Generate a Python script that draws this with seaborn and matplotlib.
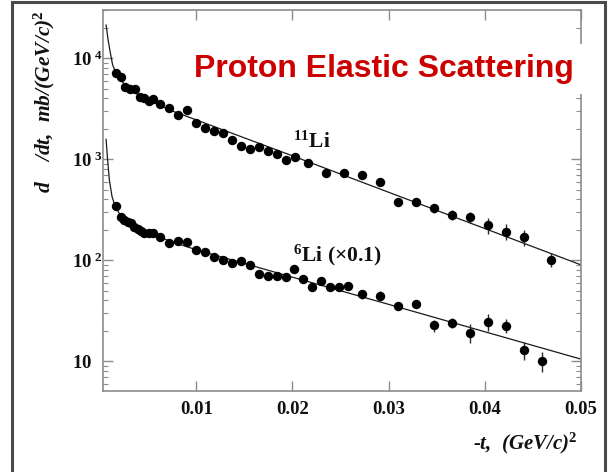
import matplotlib
matplotlib.use("Agg")
import matplotlib.pyplot as plt
import seaborn as sns
import pandas as pd
from matplotlib.patches import Rectangle
from matplotlib.ticker import FixedLocator, FixedFormatter, LogLocator, NullFormatter, NullLocator

# ---------------- data ----------------
li11_t = [0.00166, 0.00221, 0.00262, 0.00314, 0.00359, 0.00411, 0.00460, 0.00504, 0.00550, 0.00619,
          0.00712, 0.00806, 0.00899, 0.00997, 0.01090, 0.01180, 0.01273, 0.01367, 0.01460, 0.01554,
          0.01647, 0.01741, 0.01838, 0.01932, 0.02026, 0.02164, 0.02351, 0.02538, 0.02725, 0.02912,
          0.03096, 0.03283, 0.03470, 0.03657, 0.03844, 0.04031, 0.04218, 0.04405, 0.04685]
li11_xs = [7200, 6490, 5160, 4930, 4930, 4170, 4070, 3800, 3950, 3530,
           3200, 2750, 3060, 2290, 2060, 1900, 1820, 1540, 1360, 1250,
           1330, 1220, 1120, 980, 1050, 920, 730, 730, 700, 590,
           375, 375, 327, 283, 266, 224, 192, 169, 101]
li11_err = [250, 220, 180, 170, 170, 150, 140, 140, 140, 130,
            120, 110, 120, 95, 85, 80, 80, 70, 65, 60,
            65, 60, 55, 50, 55, 50, 45, 45, 45, 45,
            30, 30, 32, 34, 34, 40, 34, 30, 16]

li6_t = [0.00166, 0.00218, 0.00252, 0.00286, 0.00322, 0.00356, 0.00390, 0.00426, 0.00460, 0.00504,
         0.00550, 0.00619, 0.00712, 0.00806, 0.00899, 0.00997, 0.01090, 0.01180, 0.01273, 0.01367,
         0.01460, 0.01554, 0.01647, 0.01741, 0.01838, 0.01932, 0.02018, 0.02112, 0.02205, 0.02299,
         0.02392, 0.02486, 0.02579, 0.02725, 0.02912, 0.03096, 0.03283, 0.03470, 0.03657, 0.03844,
         0.04031, 0.04218, 0.04405, 0.04592]
li6_xs = [345, 267, 251, 241, 232, 215, 203, 196, 188, 185,
          185, 171, 147, 156, 152, 126, 121, 108.6, 100.7, 93.3,
          99, 89.2, 72.6, 69.5, 69.5, 68.8, 81.5, 64.9, 54.4, 61.9,
          54.8, 54.8, 55.7, 46.1, 44.6, 35.5, 36.6, 22.7, 24.1, 19.2,
          24.7, 22.5, 12.9, 10.1]
li6_err = [12, 10, 9, 9, 8, 8, 8, 7, 7, 7,
           7, 7, 6, 6, 6, 5, 5, 5, 4.5, 4.5,
           4.5, 4, 4, 4, 4, 4, 4, 4, 5, 5,
           5, 5, 5, 4.5, 4.5, 3.3, 2.9, 3.0, 2.9, 4.0,
           4.7, 3.5, 2.5, 2.3]

fit11_t = [0.00062, 0.00083, 0.00107, 0.00130, 0.00166, 0.0022, 0.003, 0.004, 0.005, 0.0075,
           0.01, 0.02, 0.03, 0.04, 0.05]
fit11_xs = [21400, 15200, 11200, 8600, 7100, 5960, 5050, 4300, 3850, 3000,
            2450, 1080, 471, 206, 90]

fit6_t = [0.00062, 0.00078, 0.00096, 0.00124, 0.00158, 0.002, 0.0025, 0.003, 0.004, 0.005,
          0.0075, 0.01, 0.02, 0.03, 0.04, 0.05]
fit6_xs = [1580, 985, 624, 426, 340, 290, 255, 233, 205, 186,
           152, 127, 68, 36.6, 19.6, 10.5]

x_ticks = [0.01, 0.02, 0.03, 0.04, 0.05]
x_tick_labels = ["0.01", "0.02", "0.03", "0.04", "0.05"]
y_ticks = [10, 100, 1000, 10000]
y_tick_labels = [r"$10$", r"$10^{\ 2}$", r"$10^{\ 3}$", r"$10^{\ 4}$"]

title_text = "Proton Elastic Scattering"
label_11 = r"$^{11}\mathrm{Li}$"
label_6 = r"$^{6}\mathrm{Li\ (\times 0.1)}$"
y_label = r"d    /dt,  mb/(GeV/c)$^{\mathit{2}}$"
x_label = r"-t,  (GeV/c)$^{\mathit{2}}$"

# ---------------- style ----------------
sns.set_theme(style="ticks")
plt.rcParams["font.family"] = ["Liberation Serif", "DejaVu Serif"]
plt.rcParams["mathtext.fontset"] = "custom"
plt.rcParams["mathtext.rm"] = "Liberation Serif:bold"
plt.rcParams["mathtext.bf"] = "Liberation Serif:bold"
plt.rcParams["mathtext.it"] = "Liberation Serif:italic:bold"
plt.rcParams["mathtext.bfit"] = "Liberation Serif:italic:bold"

W, H = 610, 472
fig = plt.figure(figsize=(W / 100, H / 100), dpi=100)
fig.patch.set_facecolor("white")
ax = fig.add_axes([103 / W, (H - 391) / H, (581 - 103) / W, (391 - 10) / H])
ax.set_facecolor("white")

df11 = pd.DataFrame({"t": li11_t, "xs": li11_xs, "err": li11_err})
df6 = pd.DataFrame({"t": li6_t, "xs": li6_xs, "err": li6_err})
f11 = pd.DataFrame({"t": fit11_t, "xs": fit11_xs})
f6 = pd.DataFrame({"t": fit6_t, "xs": fit6_xs})

for f in (f11, f6):
    sns.lineplot(data=f, x="t", y="xs", ax=ax, color="#1a1a1a", lw=0.9,
                 estimator=None, sort=True, legend=False, zorder=2)
for d in (df11, df6):
    ax.errorbar(d["t"], d["xs"], yerr=d["err"], fmt="none", ecolor="#2a2a2a",
                elinewidth=1.0, capsize=0, zorder=3)
    sns.scatterplot(data=d, x="t", y="xs", ax=ax, color="black", s=46,
                    linewidth=0, legend=False, zorder=4)

ax.set_yscale("log")
ax.set_xlim(0.0003, 0.05)
ax.set_ylim(5.08, 30000)

spine_col = "#8c8c8c"
for s in ax.spines.values():
    s.set_visible(True)
    s.set_color(spine_col)
    s.set_linewidth(1.2)

ax.xaxis.set_major_locator(FixedLocator(x_ticks))
ax.xaxis.set_major_formatter(FixedFormatter(x_tick_labels))
ax.xaxis.set_minor_locator(NullLocator())
ax.yaxis.set_major_locator(FixedLocator(y_ticks))
ax.yaxis.set_major_formatter(FixedFormatter(y_tick_labels))
ax.yaxis.set_minor_locator(LogLocator(base=10, subs=range(2, 10)))
ax.yaxis.set_minor_formatter(NullFormatter())

ax.tick_params(axis="both", which="both", direction="in", color=spine_col,
               top=True, right=True)
ax.tick_params(axis="both", which="major", length=7, width=1.0)
ax.tick_params(axis="y", which="minor", length=3.5, width=0.8)
ax.tick_params(axis="x", which="major", labelsize=13.5, pad=7)
ax.tick_params(axis="y", which="major", labelsize=13.5, pad=22.5)
for lab in ax.get_xticklabels():
    lab.set_fontweight("bold")
    lab.set_color("#111111")
for lab in ax.get_yticklabels():
    lab.set_horizontalalignment("left")
    lab.set_color("#111111")

ax.set_xlabel("")
ax.set_ylabel("")

# curve labels
ax.text(0.02008, 1294, label_11, fontsize=15.5, ha="left", va="baseline", color="#111111", zorder=5)
ax.text(0.02008, 98.6, label_6, fontsize=15.5, ha="left", va="baseline", color="#111111", zorder=5)

# title with white background (hides the spine behind it, as in the reference)
fig.text(384 / W, 1 - 77 / H, title_text, fontsize=23, fontweight="bold",
         family=["Liberation Sans", "DejaVu Sans"], color="#cc0000",
         ha="center", va="baseline",
         bbox=dict(boxstyle="square,pad=0.3", facecolor="white", edgecolor="none"), zorder=6)

# axis labels
fig.text(44 / W, 1 - 102 / H, y_label, fontsize=15.5, rotation=90, ha="center", va="center",
         fontstyle="italic", fontweight="bold", color="#111111")
fig.text(578 / W, 1 - 443 / H, x_label, fontsize=15, ha="right", va="center",
         fontstyle="italic", fontweight="bold", color="#111111")

# outer frame
fig.patches.append(Rectangle((12 / W, -0.05), (605 - 12) / W, 1.05 - 2 / H,
                             transform=fig.transFigure, fill=False,
                             edgecolor="#4a4a4a", linewidth=2.2, clip_on=False))

fig.savefig("out.png", dpi=100, facecolor="white")
